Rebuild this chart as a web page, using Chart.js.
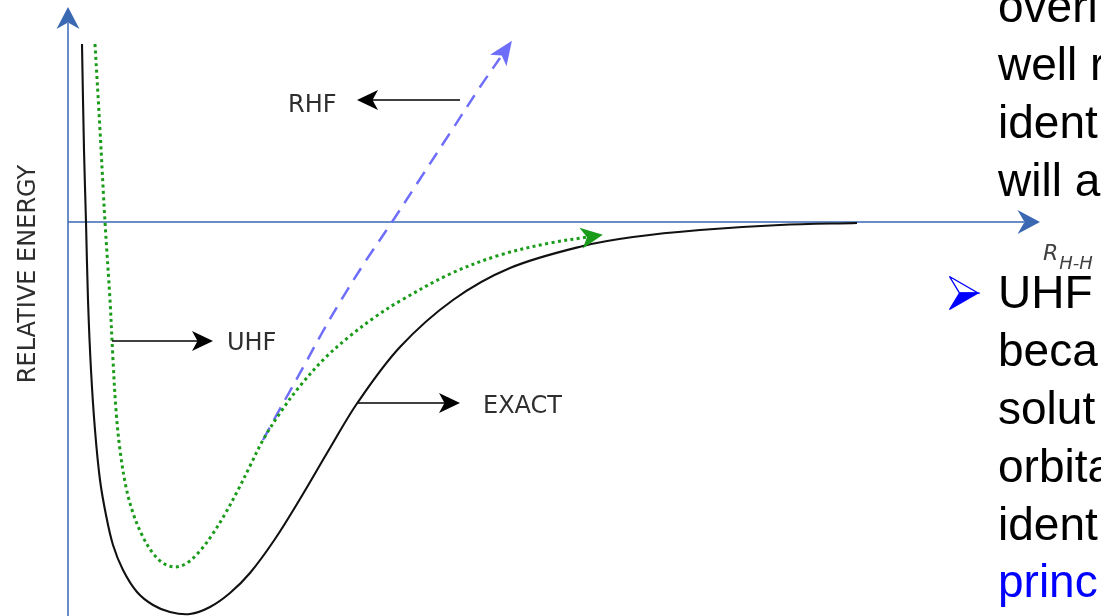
<!DOCTYPE html>
<html>
<head>
<meta charset="utf-8">
<title>H–H potential energy curves</title>
<script src="https://cdn.jsdelivr.net/npm/chart.js@4/dist/chart.umd.min.js"></script>
<style>
  html, body { margin: 0; padding: 0; background: #fff; }
  #wrap { position: relative; width: 1101px; height: 616px; overflow: hidden; }
  #pes { position: absolute; left: 0; top: 0; }
  #notes { position: absolute; left: 0; top: 0; }
  #notes text { font-family: "Liberation Sans", Arial, sans-serif; font-size: 46px; fill: #000; }
</style>
</head>
<body>
<div id="wrap">
  <canvas id="pes" width="1101" height="616"></canvas>
  <svg id="notes" width="1101" height="616" xmlns="http://www.w3.org/2000/svg">
    <text x="998" y="22">overl</text>
    <text x="998" y="80">well r</text>
    <text x="998" y="138">ident</text>
    <text x="998" y="196">will a</text>
    <!-- bullet: half-filled arrowhead -->
    <path d="M949.5 276.5 L978 293 L959.5 293 Z" fill="#fff" stroke="#0000ff" stroke-width="1.4" stroke-linejoin="miter"/>
    <path d="M959.5 293 L978 293 L949.5 309.5 Z" fill="#0000ff" stroke="#0000ff" stroke-width="1.2"/>
    <text x="998" y="308">UHF</text>
    <text x="998" y="366">beca</text>
    <text x="998" y="424">solut</text>
    <text x="998" y="482">orbita</text>
    <text x="998" y="540">ident</text>
    <text x="998" y="597" style="fill:#0000ff">princ</text>
  </svg>
</div>
<script>
// H2 dissociation: relative energy against H–H distance (arbitrary units)
const exactR = [0.14, 0.16, 0.18, 0.20, 0.23, 0.27, 0.32, 0.38, 0.45, 0.55, 0.69, 0.85, 1.02, 1.22, 1.42,
                1.62, 1.82, 2.07, 2.32, 2.62, 2.90, 3.32, 3.85, 4.42, 5.15, 5.65, 6.32, 7.12, 7.89];
const exactE = [1.78, 0.72, 0.00, -0.78, -1.48, -2.08, -2.58, -2.93, -3.23, -3.48, -3.70, -3.83, -3.90, -3.92, -3.85,
                -3.71, -3.51, -3.17, -2.77, -2.26, -1.80, -1.25, -0.78, -0.46, -0.24, -0.15, -0.08, -0.03, -0.01];

const uhfR = [0.27, 0.32, 0.37, 0.42, 0.45, 0.48, 0.52, 0.58, 0.65, 0.74, 0.84, 0.95, 1.07, 1.19, 1.31,
              1.44, 1.57, 1.70, 1.82, 1.95, 2.12, 2.32, 2.57, 2.82, 3.07, 3.32, 3.82, 4.32, 4.82, 5.20];
const uhfE = [1.78, 0.92, 0.00, -0.78, -1.38, -1.88, -2.28, -2.65, -2.91, -3.13, -3.30, -3.41, -3.45, -3.41, -3.30,
              -3.13, -2.92, -2.68, -2.44, -2.18, -1.91, -1.64, -1.36, -1.14, -0.95, -0.79, -0.52, -0.33, -0.21, -0.15];

// RHF leaves the UHF curve at the Coulson–Fischer point and keeps rising
const rhfR = [1.95, 2.08, 2.22, 2.37, 2.54, 2.72, 2.97, 3.24, 3.52, 3.82, 4.12, 4.32];
const rhfE = [-2.18, -1.94, -1.69, -1.42, -1.11, -0.80, -0.40, 0.00, 0.43, 0.89, 1.35, 1.64];

const curveNames = ['EXACT', 'UHF', 'RHF'];
const yAxisTitle = 'RELATIVE ENERGY';
const xAxisTitle = ['R', 'H-H'];

// ---- presentation ----
const AXIS_BLUE = '#3a68b2';
const LABEL_GREY = '#2e2e2e';
const LABEL_FONT = '"DejaVu Sans", Verdana, sans-serif';

const toPoints = (xs, ys) => xs.map((x, i) => ({ x, y: ys[i] }));

// callout arrows: line start, arrow tip and text anchor, in data units
const callouts = [
  { name: 2, from: [3.92, 1.22], tip: [2.89, 1.22], text: [2.20, 1.10] },
  { name: 1, from: [0.44, -1.19], tip: [1.45, -1.19], text: [1.59, -1.28] },
  { name: 0, from: [2.90, -1.81], tip: [3.92, -1.81], text: [4.15, -1.91] }
];

function arrowHead(ctx, tx, ty, ux, uy, len, hw, notch, color) {
  const nx = -uy, ny = ux;
  const bx = tx - ux * len, by = ty - uy * len;
  ctx.beginPath();
  ctx.moveTo(tx, ty);
  ctx.lineTo(bx + nx * hw, by + ny * hw);
  ctx.lineTo(tx - ux * (len - notch), ty - uy * (len - notch));
  ctx.lineTo(bx - nx * hw, by - ny * hw);
  ctx.closePath();
  ctx.fillStyle = color;
  ctx.fill();
}

const axesPlugin = {
  id: 'energyAxes',
  beforeDatasetsDraw(chart) {
    const { ctx, scales: { x: xs, y: ys } } = chart;
    const x0 = xs.getPixelForValue(0), y0 = ys.getPixelForValue(0);
    const yTop = ys.getPixelForValue(2.15), yBottom = ys.getPixelForValue(ys.min);
    const xEnd = xs.getPixelForValue(9.72);
    ctx.save();
    ctx.setLineDash([]);
    ctx.strokeStyle = AXIS_BLUE;
    ctx.lineWidth = 1.5;
    ctx.beginPath();
    ctx.moveTo(x0, yBottom);
    ctx.lineTo(x0, yTop + 16);
    ctx.moveTo(x0, y0);
    ctx.lineTo(xEnd - 16, y0);
    ctx.stroke();
    arrowHead(ctx, x0, yTop, 0, -1, 22, 11.5, 6.5, AXIS_BLUE);
    arrowHead(ctx, xEnd, y0, 1, 0, 22.5, 12, 7, AXIS_BLUE);

    // axis titles
    ctx.fillStyle = LABEL_GREY;
    ctx.save();
    ctx.translate(x0 - 33, ys.getPixelForValue(-0.52));
    ctx.rotate(-Math.PI / 2);
    ctx.font = '24px ' + LABEL_FONT;
    ctx.textAlign = 'center';
    ctx.textBaseline = 'alphabetic';
    ctx.fillText(yAxisTitle, 0, 0);
    ctx.restore();

    const rx = xs.getPixelForValue(9.75), ry = ys.getPixelForValue(-0.38);
    ctx.fillStyle = '#404040';
    ctx.textAlign = 'left';
    ctx.textBaseline = 'alphabetic';
    ctx.font = 'oblique 22px ' + LABEL_FONT;
    ctx.fillText(xAxisTitle[0], rx, ry);
    const rw = ctx.measureText(xAxisTitle[0]).width;
    ctx.font = 'oblique 18px ' + LABEL_FONT;
    ctx.fillText(xAxisTitle[1], rx + rw + 1, ry + 9);
    ctx.restore();
  },
  afterDatasetsDraw(chart) {
    const { ctx, scales: { x: xs, y: ys } } = chart;
    const P = (v) => [xs.getPixelForValue(v[0]), ys.getPixelForValue(v[1])];
    ctx.save();
    ctx.setLineDash([]);

    // arrowheads at the open ends of the UHF and RHF curves
    chart.data.datasets.forEach((ds) => {
      if (!ds.endArrow) return;
      const n = ds.data.length;
      const a = P([ds.data[n - 2].x, ds.data[n - 2].y]);
      const b = P([ds.data[n - 1].x, ds.data[n - 1].y]);
      const L = Math.hypot(b[0] - a[0], b[1] - a[1]);
      const ux = (b[0] - a[0]) / L, uy = (b[1] - a[1]) / L;
      const e = ds.endArrow;
      arrowHead(ctx, b[0] + ux * e.ext, b[1] + uy * e.ext, ux, uy, e.len, e.hw, 6, ds.borderColor);
    });

    // callout arrows and curve names
    ctx.strokeStyle = '#000';
    ctx.lineWidth = 1.6;
    callouts.forEach((c) => {
      const f = P(c.from), t = P(c.tip);
      const L = Math.hypot(t[0] - f[0], t[1] - f[1]);
      const ux = (t[0] - f[0]) / L, uy = (t[1] - f[1]) / L;
      ctx.beginPath();
      ctx.moveTo(f[0], f[1]);
      ctx.lineTo(t[0] - ux * 14, t[1] - uy * 14);
      ctx.stroke();
      arrowHead(ctx, t[0], t[1], ux, uy, 21, 10, 5.5, '#000');
      const p = P(c.text);
      ctx.fillStyle = LABEL_GREY;
      ctx.font = '24px ' + LABEL_FONT;
      ctx.textAlign = 'left';
      ctx.textBaseline = 'alphabetic';
      ctx.fillText(curveNames[c.name], p[0], p[1]);
    });
    ctx.restore();
  }
};

new Chart(document.getElementById('pes'), {
  type: 'scatter',
  data: {
    datasets: [
      {
        label: curveNames[0],
        data: toPoints(exactR, exactE),
        showLine: true,
        borderColor: '#111',
        borderWidth: 2.1,
        pointRadius: 0,
        tension: 0.35
      },
      {
        label: curveNames[1],
        data: toPoints(uhfR, uhfE),
        showLine: true,
        borderColor: '#1a9c1a',
        borderWidth: 3,
        borderDash: [3, 3.4],
        pointRadius: 0,
        tension: 0.35,
        endArrow: { ext: 15, len: 22, hw: 10.5 }
      },
      {
        label: curveNames[2],
        data: toPoints(rhfR, rhfE),
        showLine: true,
        borderColor: '#6e6efa',
        borderWidth: 2.5,
        borderDash: [14, 9],
        pointRadius: 0,
        tension: 0.35,
        endArrow: { ext: 21, len: 24, hw: 10 }
      }
    ]
  },
  options: {
    responsive: false,
    animation: false,
    events: [],
    layout: { padding: 0 },
    plugins: { legend: { display: false }, tooltip: { enabled: false } },
    scales: {
      x: { type: 'linear', min: -0.68, max: 10.33, display: false },
      y: { type: 'linear', min: -3.94, max: 2.22, display: false }
    }
  },
  plugins: [axesPlugin]
});
</script>
</body>
</html>
